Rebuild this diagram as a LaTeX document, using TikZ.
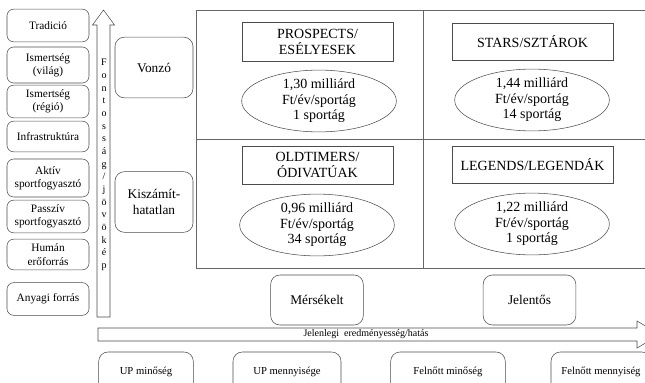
\documentclass[tikz,border=0pt]{standalone}
\usepackage{fontspec}
\setmainfont{Liberation Serif}
\usetikzlibrary{positioning,shapes.geometric}

\begin{document}
\begin{tikzpicture}[x=0.75pt, y=-0.75pt,
    factor/.style={draw=black!70, rounded corners=5pt, minimum width=61.5pt, minimum height=24.5pt, align=center, inner sep=1pt, font=\fontsize{8.5}{10}\selectfont},
    rating/.style={draw=black!70, rounded corners=7pt, minimum width=58.5pt, minimum height=45.5pt, align=center, font=\fontsize{10}{12}\selectfont},
    quadname/.style={draw=black!70, minimum height=29pt, align=center, inner sep=1pt, font=\fontsize{10.5}{12.5}\selectfont},
    money/.style={draw=black!70, ellipse, minimum width=116pt, minimum height=46pt, inner sep=0pt, align=center, font=\fontsize{10.5}{11.6}\selectfont},
    impact/.style={draw=black!70, rounded corners=7pt, minimum width=69.5pt, minimum height=37.5pt, font=\fontsize{10}{12}\selectfont},
    metric/.style={draw=black!70, rounded corners=7pt, minimum height=30pt, font=\fontsize{8}{10}\selectfont},
    bigarrow/.style={draw=black!70, fill=white},
    grid/.style={draw=black!60}
]
\useasboundingbox (0,0) rectangle (645,382);
\clip (0,0) rectangle (645,382);

% Factors (left column)
\node[factor] (trad) at (48,25.5) {Tradició};
\node[factor, minimum height=27pt] (vilag) at (48,65) {Ismertség\\(világ)};
\node[factor] (regio) at (48,101.5) {Ismertség\\(régió)};
\node[factor, minimum height=23pt] (infra) at (48,136.5) {Infrastruktúra};
\node[factor, minimum height=28.5pt] (aktiv) at (48,178) {Aktív\\sportfogyasztó};
\node[factor] (passziv) at (48,216.5) {Passzív\\sportfogyasztó};
\node[factor, minimum height=23pt] (human) at (48,254.5) {Humán\\erőforrás};
\node[factor] (anyagi) at (48,299) {Anyagi forrás};

% Vertical axis
\draw[bigarrow] (97,317) -- (97,25) -- (92.5,25) -- (103.5,10) -- (114.5,25) -- (110,25) -- (110,317) -- cycle;
\node[inner sep=0pt, align=center, font=\fontsize{7.5}{9.5}\selectfont] (fontos) at (104,165) {F\\o\\n\\t\\o\\s\\s\\á\\g\\/\\j\\ö\\v\\ö\\k\\é\\p};

% Ratings
\node[rating] (vonzo) at (154,67.5) {Vonzó};
\node[rating] (kiszam) at (154,202) {Kiszámít-\\hatatlan};

% Matrix
\draw[grid] (196,10) rectangle (660,268);
\draw[grid] (423,10) -- (423,268);
\draw[grid] (196,139) -- (660,139);

\node[quadname, minimum width=113pt] (prospects) at (317.5,42) {PROSPECTS/\\ESÉLYESEK};
\node[quadname, minimum width=121pt, minimum height=28pt] (stars) at (532.5,41.5) {STARS/SZTÁROK};
\node[quadname, minimum width=113pt, minimum height=28.5pt] (oldtimers) at (317.5,165) {OLDTIMERS/\\ÓDIVATÚAK};
\node[quadname, minimum width=121pt, minimum height=28pt] (legends) at (532.5,164.5) {LEGENDS/LEGENDÁK};

\node[money] (prospects-m) at (319,101) {1,30 milliárd\\Ft/év/sportág\\1 sportág};
\node[money] (stars-m) at (532,100) {1,44 milliárd\\Ft/év/sportág\\14 sportág};
\node[money] (oldtimers-m) at (317,225) {0,96 milliárd\\Ft/év/sportág\\34 sportág};
\node[money] (legends-m) at (532,224) {1,22 milliárd\\Ft/év/sportág\\1 sportág};

% Impact levels
\node[impact] (merseke) at (317,300) {Mérsékelt};
\node[impact] (jelentos) at (529.5,300) {Jelentős};

% Horizontal axis
\draw[bigarrow] (98,328) -- (637,328) -- (637,321) -- (660,334.5) -- (637,348) -- (637,341) -- (98,341) -- cycle;
\node[inner sep=0pt, font=\fontsize{7.5}{9}\selectfont] (eredmeny) at (366,334.5) {Jelenlegi\ \ eredményesség/hatás};

% Outputs (bottom row)
\node[metric, minimum width=71pt] (upmin) at (146,372) {UP minőség};
\node[metric, minimum width=81pt] (upmenny) at (287,372) {UP mennyisége};
\node[metric, minimum width=86pt] (felmin) at (448,372) {Felnőtt minőség};
\node[metric, minimum width=75pt] (felmenny) at (601,372) {Felnőtt mennyiség};

\end{tikzpicture}
\end{document}
